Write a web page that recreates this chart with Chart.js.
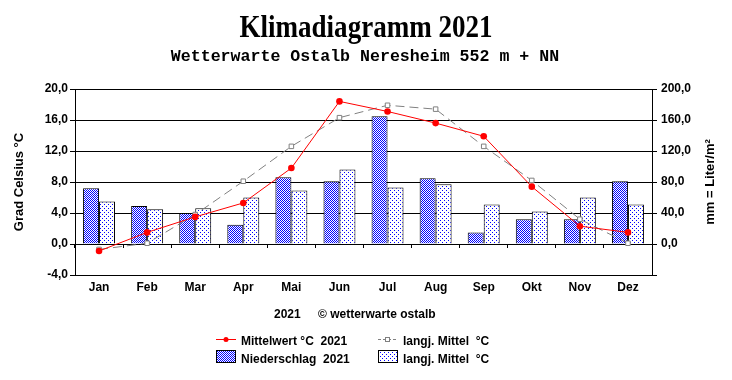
<!DOCTYPE html>
<html>
<head>
<meta charset="utf-8">
<script src="https://cdn.jsdelivr.net/npm/chart.js@4/dist/chart.umd.min.js"></script>
<style>
  html, body { margin: 0; padding: 0; background: #fff; }
  canvas { display: block; }
</style>
</head>
<body>
<canvas id="chartCanvas" width="732" height="380"></canvas>
<script>
var months = ['Jan', 'Feb', 'Mar', 'Apr', 'Mai', 'Jun', 'Jul', 'Aug', 'Sep', 'Okt', 'Nov', 'Dez'];
var temp2021 = [-0.9, 1.5, 3.5, 5.3, 9.8, 18.4, 17.1, 15.6, 13.9, 7.4, 2.3, 1.5];
var tempMean = [-0.7, 0.1, 3.8, 8.1, 12.6, 16.3, 17.9, 17.4, 12.6, 8.2, 3.2, 0.1];
var rain2021 = [72, 49, 40, 25, 86, 81, 165, 85, 15, 32, 32, 81];
var rainMean = [55, 45, 46, 60, 69, 96, 73, 77, 51, 42, 60, 51];
var tempTicks = [-4, 20, 4];
var rainTicks = [-40, 200, 40];

(function() {
  'use strict';

  var FONT = '"Liberation Sans", Arial, sans-serif';

  function makePattern(size, dots) {
    var c = document.createElement('canvas');
    c.width = size;
    c.height = size;
    var g = c.getContext('2d');
    g.fillStyle = '#ffffff';
    g.fillRect(0, 0, size, size);
    g.fillStyle = '#0000ff';
    dots.forEach(function(d) { g.fillRect(d[0], d[1], 1, 1); });
    return g.createPattern(c, 'repeat');
  }

  var checker = makePattern(2, [[0, 0], [1, 1]]);
  var dotted = makePattern(4, [[0, 0], [2, 2]]);

  function fmt(v) {
    return v.toFixed(1).replace('.', ',');
  }

  // titles, footer, legend and axis titles
  var textPlugin = {
    id: 'klimaTexts',
    afterDraw: function(chart) {
      var ctx = chart.ctx;
      var area = chart.chartArea;
      var midY = (area.top + area.bottom) / 2;
      ctx.save();
      ctx.fillStyle = '#000';

      // main title, squeezed like the original
      ctx.font = 'bold 31px "Liberation Serif", "Times New Roman", serif';
      ctx.textAlign = 'center';
      ctx.textBaseline = 'alphabetic';
      var t = 'Klimadiagramm 2021';
      var w = ctx.measureText(t).width;
      ctx.save();
      ctx.translate(366, 37);
      ctx.scale(253 / w, 1);
      ctx.fillText(t, 0, 0);
      ctx.restore();

      ctx.font = 'bold 16.6px "Liberation Mono", "Courier New", monospace';
      ctx.fillText('Wetterwarte Ostalb Neresheim 552 m + NN', 365, 61);

      ctx.font = 'bold 12px ' + FONT;
      ctx.textAlign = 'left';
      ctx.fillText('2021', 274, 318);
      ctx.fillText('\u00a9 wetterwarte ostalb', 318, 318);

      // axis titles
      ctx.font = 'bold 13px ' + FONT;
      ctx.textAlign = 'center';
      ctx.textBaseline = 'middle';
      ctx.save();
      ctx.translate(19, midY);
      ctx.rotate(-Math.PI / 2);
      ctx.fillText('Grad Celsius \u00b0C', 0, 0);
      ctx.restore();
      ctx.save();
      ctx.translate(710, midY);
      ctx.rotate(-Math.PI / 2);
      ctx.fillText('mm = Liter/m\u00b2', 0, 0);
      ctx.restore();

      // legend
      ctx.font = 'bold 12px ' + FONT;
      ctx.textAlign = 'left';
      ctx.textBaseline = 'alphabetic';

      ctx.strokeStyle = '#ff0000';
      ctx.lineWidth = 1;
      ctx.beginPath();
      ctx.moveTo(216, 339.5);
      ctx.lineTo(236, 339.5);
      ctx.stroke();
      ctx.fillStyle = '#ff0000';
      ctx.beginPath();
      ctx.arc(226, 339.5, 2.5, 0, Math.PI * 2);
      ctx.fill();
      ctx.fillStyle = '#000';
      ctx.fillText('Mittelwert \u00b0C  2021', 241, 345);

      ctx.strokeStyle = '#808080';
      ctx.setLineDash([3, 2]);
      ctx.beginPath();
      ctx.moveTo(378, 339.5);
      ctx.lineTo(398, 339.5);
      ctx.stroke();
      ctx.setLineDash([]);
      ctx.fillStyle = '#fff';
      ctx.fillRect(385.5, 337.5, 4, 4);
      ctx.strokeRect(385.5, 337.5, 4, 4);
      ctx.fillStyle = '#000';
      ctx.fillText('langj. Mittel  \u00b0C', 403, 345);

      ctx.strokeStyle = '#000';
      ctx.fillStyle = checker;
      ctx.fillRect(216.5, 350.5, 19, 12);
      ctx.strokeRect(216.5, 350.5, 19, 12);
      ctx.fillStyle = '#000';
      ctx.fillText('Niederschlag  2021', 241, 363);

      ctx.fillStyle = dotted;
      ctx.fillRect(378.5, 350.5, 19, 12);
      ctx.strokeRect(378.5, 350.5, 19, 12);
      ctx.fillStyle = '#000';
      ctx.fillText('langj. Mittel  \u00b0C', 403, 363);

      ctx.restore();
    }
  };

  function init() {
    var canvas = document.getElementById('chartCanvas');
    var ctx = canvas.getContext('2d');

    new Chart(ctx, {
      data: {
        labels: months,
        datasets: [{
          type: 'line',
          label: 'Mittelwert \u00b0C  2021',
          data: temp2021,
          yAxisID: 'y',
          borderColor: '#ff0000',
          backgroundColor: '#ff0000',
          borderWidth: 1,
          pointRadius: 3.3,
          pointBorderWidth: 0,
          tension: 0,
          order: 0
        }, {
          type: 'line',
          label: 'langj. Mittel  \u00b0C',
          data: tempMean,
          yAxisID: 'y',
          borderColor: '#808080',
          backgroundColor: '#ffffff',
          borderWidth: 1,
          borderDash: [9, 5],
          pointStyle: 'rect',
          pointRadius: 3.2,
          pointBorderWidth: 1,
          pointBorderColor: '#808080',
          tension: 0,
          order: 1
        }, {
          type: 'bar',
          label: 'Niederschlag  2021',
          data: rain2021,
          yAxisID: 'y1',
          backgroundColor: checker,
          borderColor: '#000',
          borderWidth: 1,
          categoryPercentage: 0.665,
          barPercentage: 1.0,
          order: 2
        }, {
          type: 'bar',
          label: 'langj. Mittel  \u00b0C',
          data: rainMean,
          yAxisID: 'y1',
          backgroundColor: dotted,
          borderColor: '#000',
          borderWidth: 1,
          categoryPercentage: 0.665,
          barPercentage: 1.0,
          order: 2
        }]
      },
      options: {
        responsive: false,
        animation: false,
        layout: { padding: { top: 89, left: 0, right: 0, bottom: 0 } },
        plugins: {
          legend: { display: false },
          tooltip: { enabled: false },
          title: { display: false }
        },
        scales: {
          x: {
            position: 'bottom',
            offset: true,
            grid: { display: false, drawTicks: false },
            border: { display: true, color: '#000' },
            ticks: {
              color: '#000',
              padding: 5,
              maxRotation: 0,
              font: { family: FONT, size: 12, weight: 'bold' }
            },
            afterFit: function(scale) { scale.height = 105; }
          },
          x2: {
            type: 'category',
            position: { y: 0 },
            offset: true,
            grid: { display: true, drawOnChartArea: false, drawTicks: true, tickLength: 4, color: '#000', offset: true },
            border: { display: false },
            ticks: { display: false }
          },
          y: {
            position: 'left',
            min: tempTicks[0],
            max: tempTicks[1],
            grid: { color: '#000', tickLength: 5, drawTicks: true },
            border: { display: true, color: '#000' },
            ticks: {
              stepSize: tempTicks[2],
              color: '#000',
              padding: 2,
              font: { family: FONT, size: 12, weight: 'bold' },
              callback: function(v) { return fmt(v); }
            },
            afterFit: function(scale) { scale.width = 75; }
          },
          y1: {
            position: 'right',
            min: rainTicks[0],
            max: rainTicks[1],
            grid: { drawOnChartArea: false, color: '#000', tickLength: 5, drawTicks: true },
            border: { display: true, color: '#000' },
            ticks: {
              stepSize: rainTicks[2],
              color: '#000',
              padding: 4,
              font: { family: FONT, size: 12, weight: 'bold' },
              callback: function(v) { return v < 0 ? '' : fmt(v); }
            },
            afterFit: function(scale) { scale.width = 80; }
          }
        }
      },
      plugins: [textPlugin]
    });
  }

  document.addEventListener('DOMContentLoaded', init);
})();
</script>
</body>
</html>
